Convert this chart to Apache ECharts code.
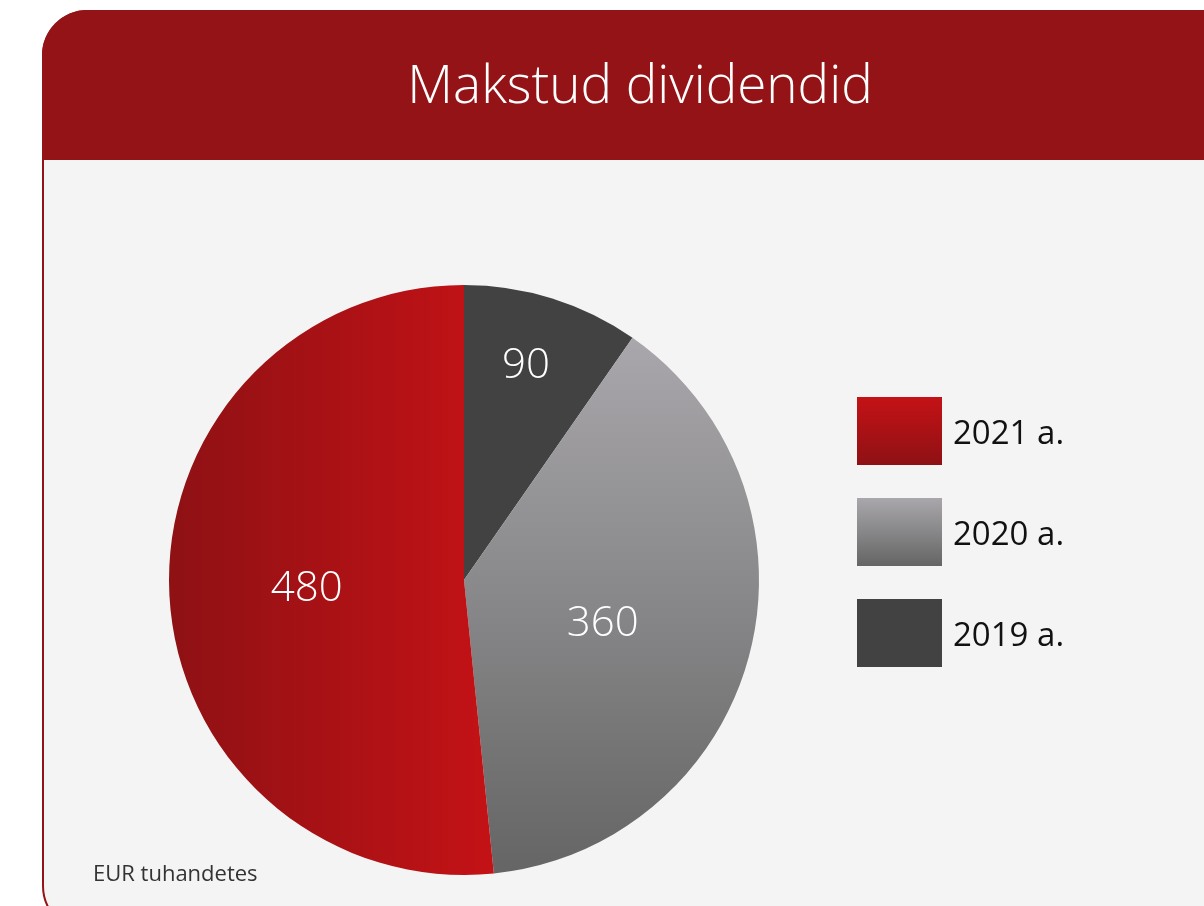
<!DOCTYPE html>
<html>
<head>
<meta charset="utf-8">
<script src="https://cdn.jsdelivr.net/npm/echarts@6/dist/echarts.min.js"></script>
<style>
html,body{margin:0;padding:0;background:#ffffff;}
#chart{width:1204px;height:906px;}
</style>
</head>
<body>
<div id="chart"></div>
<script>
const titleText = 'Makstud dividendid';
const unitText = 'EUR tuhandetes';
const categories = ['2019 a.', '2020 a.', '2021 a.'];
const values = [90, 360, 480];
const legendOrder = ['2021 a.', '2020 a.', '2019 a.'];

const FONT = '"Open Sans", "Noto Sans", sans-serif';
const grad = (x2, y2, c1, c2) => new echarts.graphic.LinearGradient(0, 0, x2, y2, [
  {offset: 0, color: c1}, {offset: 1, color: c2}
]);
const sliceColors = {
  '2019 a.': '#424242',
  '2020 a.': grad(0, 1, '#a9a7ab', '#656565'),
  '2021 a.': grad(1, 0, '#8e1114', '#c41216')
};
const legendColors = {
  '2019 a.': '#424242',
  '2020 a.': grad(0, 1, '#a9a7ab', '#656565'),
  '2021 a.': grad(0, 1, '#c41216', '#8e1114')
};
const labelOffsets = {
  '2019 a.': [17, -70],
  '2020 a.': [-7, 6],
  '2021 a.': [-7, 1]
};

const chart = echarts.init(document.getElementById('chart'), null, {renderer: 'canvas'});
chart.setOption({
  animation: false,
  backgroundColor: '#ffffff',
  graphic: [
    {type: 'rect', z: -10, shape: {x: 43, y: 11, width: 1200, height: 920, r: 45},
     style: {fill: '#f4f4f4', stroke: '#931316', lineWidth: 2}},
    {type: 'rect', z: -9, shape: {x: 42, y: 10, width: 1175, height: 150, r: [45, 12, 0, 0]},
     style: {fill: '#931316'}},
    {type: 'text', z: 10, x: 640, y: 88,
     style: {text: titleText, fill: '#ffffff', font: '300 53px ' + FONT, textAlign: 'center', textVerticalAlign: 'middle'}},
    {type: 'text', z: 10, x: 93, y: 875,
     style: {text: unitText, fill: '#333333', font: '22px ' + FONT, textVerticalAlign: 'middle'}}
  ],
  legend: {
    orient: 'vertical',
    left: 857,
    top: 397,
    padding: 0,
    itemWidth: 85,
    itemHeight: 68,
    itemGap: 33,
    icon: 'rect',
    selectedMode: false,
    formatter: '{t|{name}}',
    textStyle: {
      fontSize: 33, color: '#111111', fontFamily: FONT,
      rich: {t: {fontSize: 33, color: '#111111', fontFamily: FONT, padding: [8, 0, 0, 6]}}
    },
    data: legendOrder.map(n => ({name: n, itemStyle: {color: legendColors[n]}}))
  },
  series: [{
    type: 'pie',
    center: [464, 580],
    radius: [0, 295],
    startAngle: 90,
    clockwise: true,
    silent: true,
    itemStyle: {borderWidth: 0},
    label: {
      show: true,
      position: 'inside',
      formatter: '{c}',
      color: '#ffffff',
      fontSize: 42,
      fontWeight: 300,
      fontFamily: FONT
    },
    labelLine: {show: false},
    data: categories.map((n, i) => ({
      name: n,
      value: values[i],
      itemStyle: {color: sliceColors[n]},
      label: {offset: labelOffsets[n]}
    }))
  }]
});
</script>
</body>
</html>
